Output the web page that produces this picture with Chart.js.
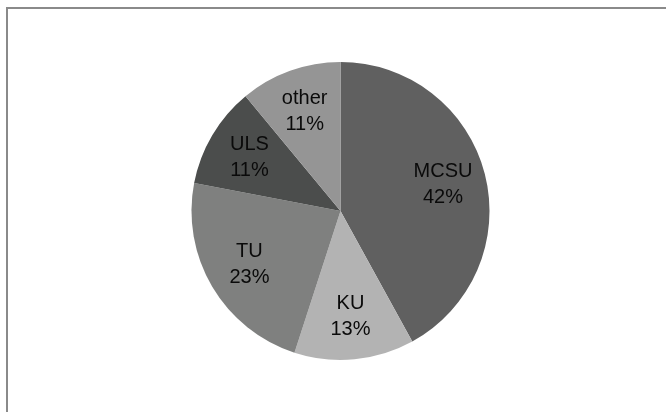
<!DOCTYPE html>
<html>
<head>
<meta charset="utf-8">
<script src="https://cdn.jsdelivr.net/npm/chart.js@4/dist/chart.umd.min.js"></script>
<style>
    html, body { margin: 0; padding: 0; background: #fff; overflow: hidden; }
    #frame {
        position: absolute; left: 6px; top: 7px;
        width: 720px; height: 480px;
        border: 2px solid #8a8a8a;
    }
    #wrap { position: absolute; left: 0; top: 0; width: 666px; height: 412px; }
</style>
</head>
<body>
<div id="frame"></div>
<div id="wrap"><canvas id="chart" width="666" height="412"></canvas></div>
<script>
const labels = ['MCSU', 'KU', 'TU', 'ULS', 'other'];
const shares = [42, 13, 23, 11, 11];
const colors = ['#606060', '#b3b3b3', '#7f807f', '#4b4d4c', '#959595'];

// writes "name" and "nn%" inside each slice
const sliceLabels = {
    id: 'sliceLabels',
    afterDatasetsDraw(chart) {
        const ctx = chart.ctx;
        const meta = chart.getDatasetMeta(0);
        ctx.save();
        ctx.font = '20px "Liberation Sans", Arial, sans-serif';
        ctx.fillStyle = '#0a0a0a';
        ctx.textAlign = 'center';
        ctx.textBaseline = 'middle';
        meta.data.forEach((arc, i) => {
            const p = arc.getProps(['x', 'y', 'startAngle', 'endAngle', 'outerRadius']);
            const mid = (p.startAngle + p.endAngle) / 2;
            const r = p.outerRadius * 0.71;
            const x = p.x + Math.cos(mid) * r;
            const y = p.y + Math.sin(mid) * r;
            ctx.fillText(labels[i], x, y - 13);
            ctx.fillText(shares[i] + '%', x, y + 13);
        });
        ctx.restore();
    }
};

new Chart(document.getElementById('chart'), {
    type: 'pie',
    data: {
        labels: labels,
        datasets: [{
            data: shares,
            backgroundColor: colors,
            borderWidth: 0
        }]
    },
    options: {
        responsive: false,
        animation: false,
        layout: { padding: { top: 62, bottom: 52, left: 15, right: 0 } },
        plugins: {
            legend: { display: false },
            tooltip: { enabled: false }
        }
    },
    plugins: [sliceLabels]
});
</script>
</body>
</html>
